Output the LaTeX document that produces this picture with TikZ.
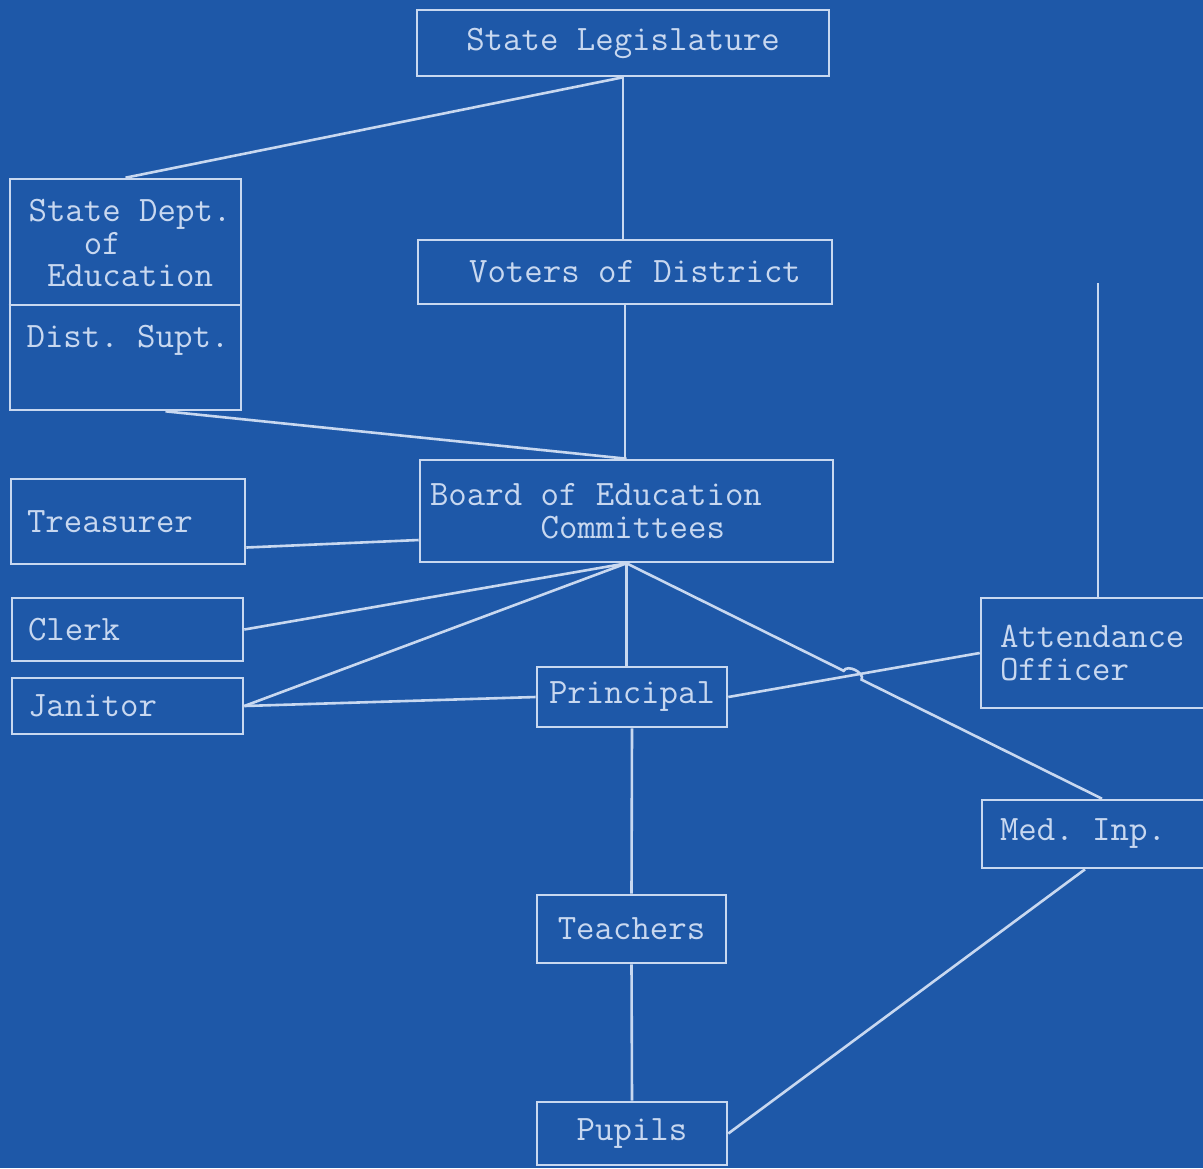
\documentclass[tikz,border=0pt]{standalone}
\usepackage{fontspec}
\usepackage{xcolor}
\usetikzlibrary{positioning,calc,intersections}
\definecolor{bpblue}{RGB}{30,88,168}
\definecolor{bpline}{RGB}{200,216,240}

\begin{document}
\frenchspacing
\begin{tikzpicture}[
    x=0.5pt, y=-0.5pt,
    font=\ttfamily\fontsize{17.9pt}{16.2pt}\selectfont,
    box/.style={draw=bpline, line width=1.3pt, text=bpline, rectangle, align=center, inner sep=0pt,
        execute at begin node={\spaceskip=0pt\xspaceskip=0pt\relax}},
    lbox/.style={box, align=left, inner xsep=8pt},
    wire/.style={draw=bpline, line width=1.3pt}
]

% blueprint sheet
\path[use as bounding box, fill=bpblue] (0,0) rectangle (1203,1168);

% State Legislature
\node[box, minimum width=206pt, minimum height=33pt] (leg) at (623,43) {State Legislature};

% State Dept. / Dist. Supt.
\node[box, minimum width=115.5pt, minimum height=115.5pt] (sde) at (125.5,294.5) {};
\node[text=bpline, align=left, inner sep=0pt] (sdename) at (130,243) {State Dept.\\\hphantom{xxx}of\\\hphantom{x}Education};
\node[text=bpline, inner sep=0pt] (supt) at (128,340) {Dist. Supt.};
\draw[wire] ($(sde.north west)!0.545!(sde.south west)$) -- ($(sde.north east)!0.545!(sde.south east)$);

% Voters of District
\node[box, minimum width=207pt, minimum height=32pt] (voters) at (625,272) {\hspace*{10pt}Voters of District};

% Board of Education
\node[lbox, inner xsep=5pt, text width=196.5pt, minimum height=51pt] (board) at (626.5,511) {Board of Education\\\hphantom{Board }Committees};

% left column
\node[lbox, text width=101pt, minimum height=42.5pt] (treas) at (128,521.5) {Treasurer};
\node[lbox, text width=99.5pt, minimum height=31.5pt] (clerk) at (127.5,629.5) {Clerk};
\node[lbox, text width=99.5pt, minimum height=28pt] (janitor) at (127.5,706) {Janitor};

% middle column
\node[box, minimum width=95pt, minimum height=30pt] (principal) at (632,697) {Principal};
\node[box, minimum width=94.5pt, minimum height=34pt] (teachers) at (631.5,929) {Teachers};
\node[box, minimum width=95pt, minimum height=31.5pt] (pupils) at (632,1133.5) {Pupils};

% right column
\node[lbox, inner xsep=9.5pt, text width=101pt, minimum height=55pt] (attend) at (1101,653) {Attendance\\Officer};
\node[lbox, inner xsep=9pt, text width=102pt, minimum height=34pt] (medinp) at (1102,834) {Med. Inp.};

% connections
\draw[wire] (leg.south) -- (leg.south |- voters.north);
\draw[wire] (leg.south) -- (sde.north);
\draw[wire] (voters.south) -- (voters.south |- board.north);
\draw[wire] ([xshift=20pt]sde.south) -- (board.north);
\draw[wire] ([yshift=-13pt]treas.east) -- ([yshift=-14.5pt]board.west);
\draw[wire] (board.south) -- (clerk.east);
\draw[wire] (board.south) -- (janitor.east);
\draw[wire] (janitor.east) -- (principal.west);
\draw[wire] (board.south) -- (board.south |- principal.north);
\draw[wire, name path=pa] (principal.east) -- (attend.west);
\path[name path=bm] (board.south) -- (medinp.north);
\path[name intersections={of=pa and bm, by=hop}];
\draw[wire] (board.south) -- ($(hop)!5pt!(board.south)$) to[bend left=90] ($(hop)!5pt!(medinp.north)$) -- (medinp.north);
\coordinate (aotop) at (1098,283);
\draw[wire] (aotop) -- (aotop |- attend.north);
\draw[wire] (principal.south) -- (teachers.north);
\draw[wire] (teachers.south) -- (pupils.north);
\draw[wire] (pupils.east) -- ([xshift=-8.5pt]medinp.south);

\end{tikzpicture}
\end{document}
